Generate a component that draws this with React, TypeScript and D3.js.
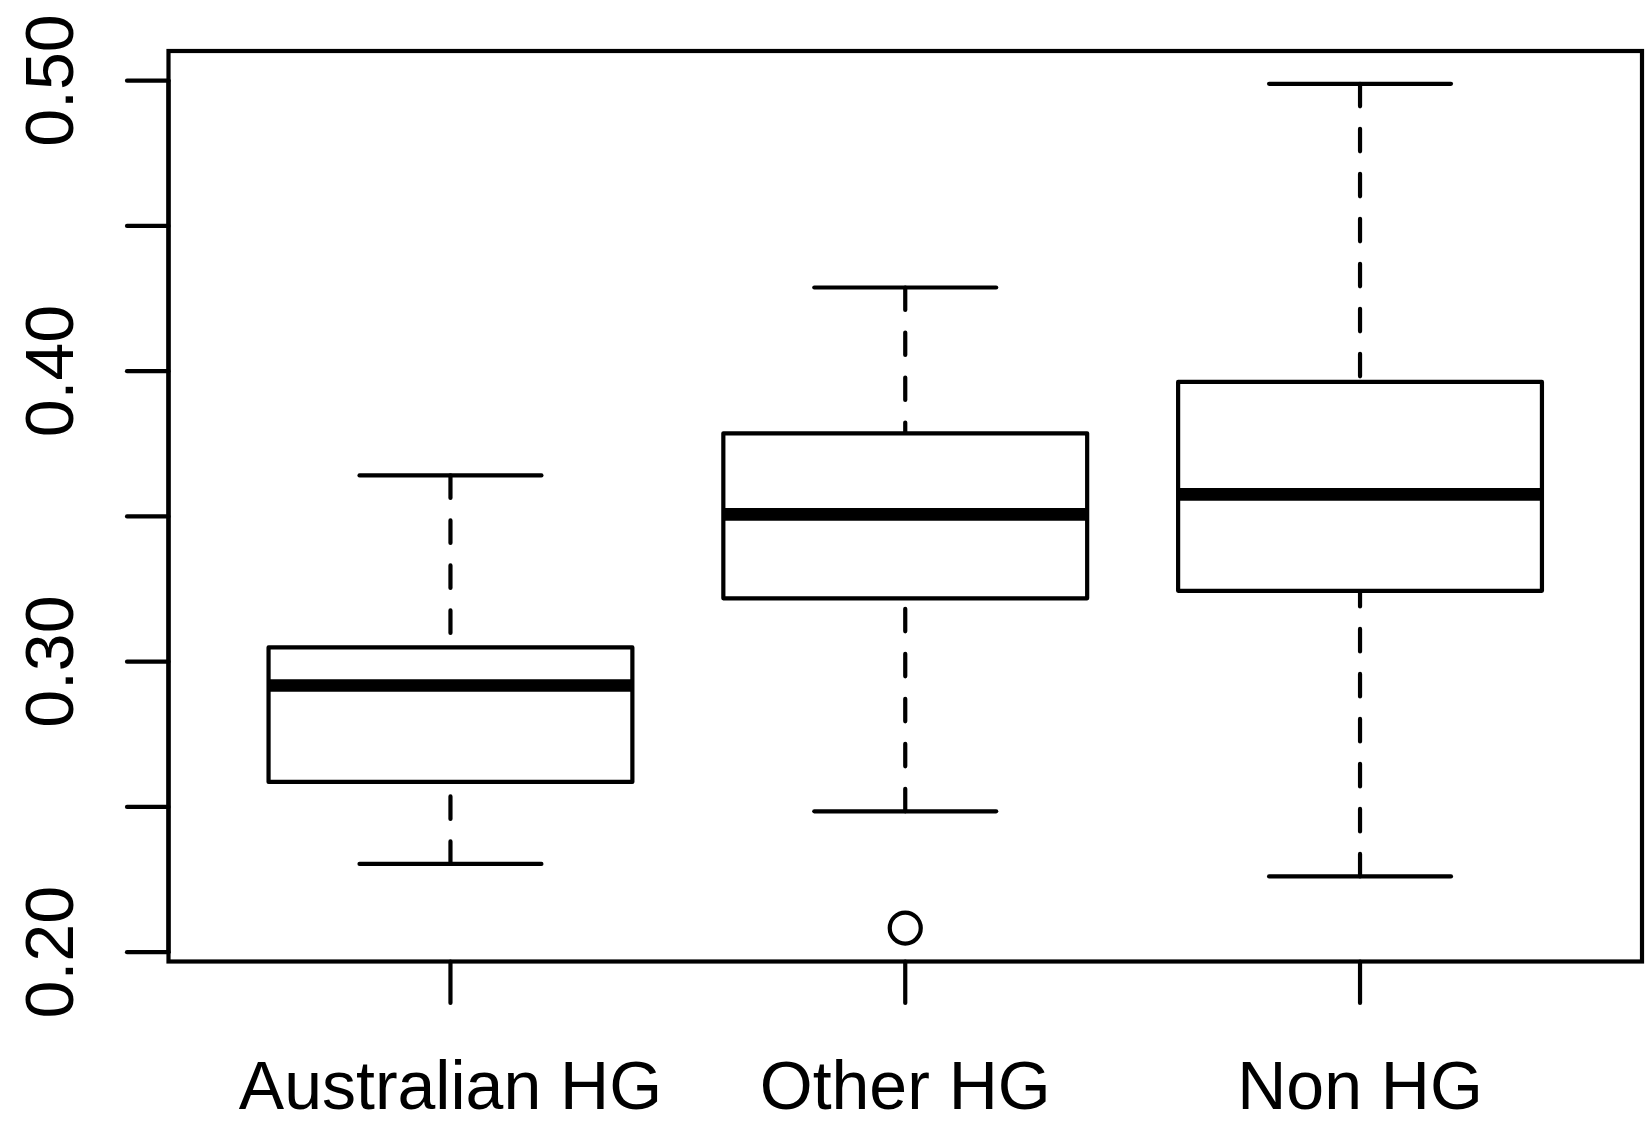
import React from "react";
import * as d3 from "d3";

// groups and their box statistics
const groups = ["Australian HG", "Other HG", "Non HG"];
const lowerWhisker = [0.2304, 0.2485, 0.2261];
const q1 = [0.2586, 0.3218, 0.3244];
const median = [0.2918, 0.3507, 0.3576];
const q3 = [0.3049, 0.3786, 0.3963];
const upperWhisker = [0.3641, 0.4288, 0.4989];
const outliers = [{ group: 1, value: 0.2083 }];
const yTicks = [0.2, 0.25, 0.3, 0.35, 0.4, 0.45, 0.5];
const yLabels = [0.2, 0.3, 0.4, 0.5];

const W = 1645;
const H = 1124;
const font = "'Liberation Sans', Arial, Helvetica, sans-serif";
const lw = 4.2;

export default function App() {
  const x = d3.scaleLinear().domain([0.38, 3.62]).range([168.5, 1642]);
  const y = d3.scaleLinear().domain([0.1968, 0.5102]).range([961.5, 51]);
  const unit = x(1) - x(0);
  const boxW = unit * 0.8;
  const capW = unit * 0.4;

  return (
    <svg
      width={W}
      height={H}
      style={{ position: "absolute", left: 0, top: 0, background: "#fff" }}
    >
      <rect x={0} y={0} width={W} height={H} fill="#fff" />

      {groups.map((g, i) => {
        const cx = x(i + 1);
        return (
          <g key={g} stroke="#000" strokeWidth={lw} strokeLinecap="round" strokeLinejoin="round" fill="none">
            {/* whiskers, dashed from the extreme toward the box */}
            <line x1={cx} x2={cx} y1={y(upperWhisker[i])} y2={y(q3[i])} strokeDasharray="22.5,22.5" />
            <line x1={cx} x2={cx} y1={y(lowerWhisker[i])} y2={y(q1[i])} strokeDasharray="22.5,22.5" />
            <line x1={cx - capW / 2} x2={cx + capW / 2} y1={y(upperWhisker[i])} y2={y(upperWhisker[i])} />
            <line x1={cx - capW / 2} x2={cx + capW / 2} y1={y(lowerWhisker[i])} y2={y(lowerWhisker[i])} />
            <rect
              x={cx - boxW / 2}
              y={y(q3[i])}
              width={boxW}
              height={y(q1[i]) - y(q3[i])}
              fill="#fff"
            />
            <line
              x1={cx - boxW / 2}
              x2={cx + boxW / 2}
              y1={y(median[i])}
              y2={y(median[i])}
              strokeWidth={12.6}
              strokeLinecap="butt"
            />
          </g>
        );
      })}

      {outliers.map((o, k) => (
        <circle key={k} cx={x(o.group + 1)} cy={y(o.value)} r={15.5} fill="none" stroke="#000" strokeWidth={lw} />
      ))}

      {/* frame */}
      <rect
        x={x(0.38)}
        y={y(0.5102)}
        width={x(3.62) - x(0.38)}
        height={y(0.1968) - y(0.5102)}
        fill="none"
        stroke="#000"
        strokeWidth={lw}
      />

      {/* y axis */}
      <g stroke="#000" strokeWidth={lw} strokeLinecap="round">
        <line x1={168.5} x2={168.5} y1={y(0.2)} y2={y(0.5)} />
        {yTicks.map((t) => (
          <line key={t} x1={127} x2={168.5} y1={y(t)} y2={y(t)} />
        ))}
      </g>
      {yLabels.map((t) => (
        <text
          key={t}
          transform={`translate(73,${y(t)}) rotate(-90)`}
          textAnchor="middle"
          fontFamily={font}
          fontSize={68}
          fill="#000"
        >
          {d3.format(".2f")(t)}
        </text>
      ))}

      {/* x axis */}
      <g stroke="#000" strokeWidth={lw} strokeLinecap="round">
        {groups.map((g, i) => (
          <line key={g} x1={x(i + 1)} x2={x(i + 1)} y1={961.5} y2={1003} />
        ))}
      </g>
      {groups.map((g, i) => (
        <text
          key={g}
          x={x(i + 1)}
          y={1108.5}
          textAnchor="middle"
          fontFamily={font}
          fontSize={68}
          fill="#000"
        >
          {g}
        </text>
      ))}
    </svg>
  );
}
